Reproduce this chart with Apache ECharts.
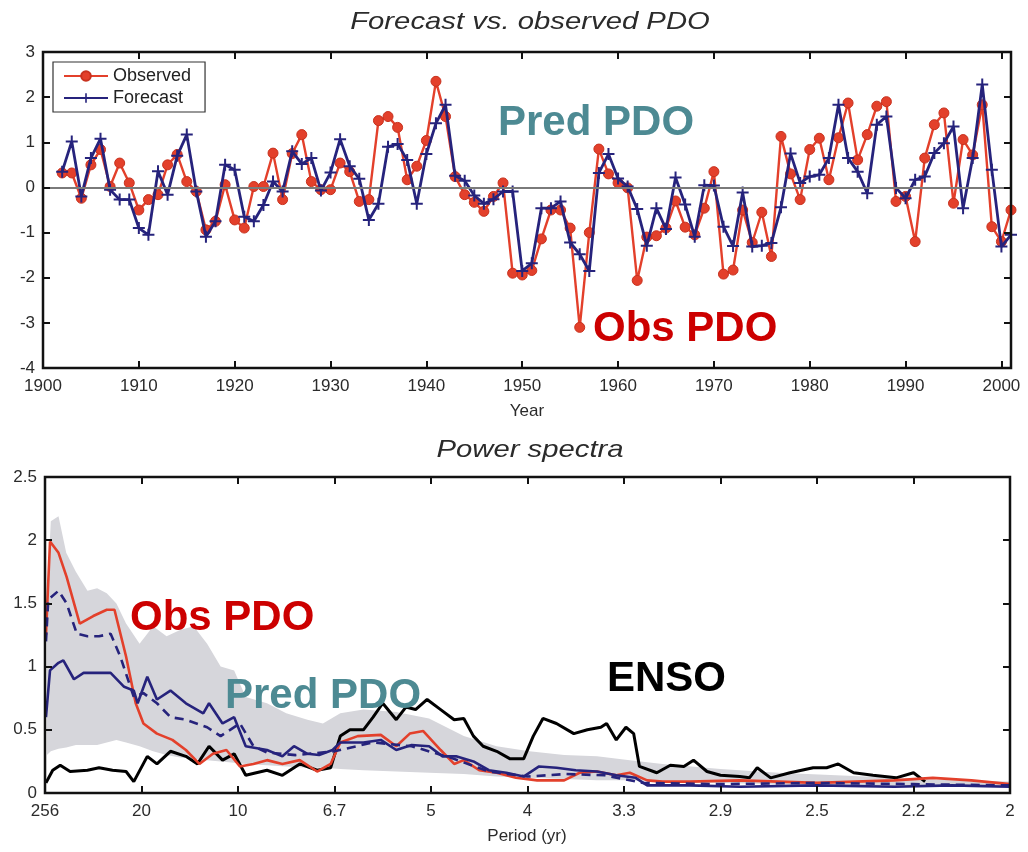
<!DOCTYPE html>
<html><head><meta charset="utf-8">
<script src="https://cdn.jsdelivr.net/npm/echarts@6/dist/echarts.min.js"></script>
<style>html,body{margin:0;padding:0;background:#fff}#c{width:1028px;height:852px}</style>
</head><body><div id="c"></div>
<script>
// ---------- Top panel data ----------
const years = [1902,1903,1904,1905,1906,1907,1908,1909,1910,1911,1912,1913,1914,1915,1916,1917,1918,1919,1920,1921,
1922,1923,1924,1925,1926,1927,1928,1929,1930,1931,1932,1933,1934,1935,1936,1937,1938,1939,1940,1941,
1942,1943,1944,1945,1946,1947,1948,1949,1950,1951,1952,1953,1954,1955,1956,1957,1958,1959,1960,1961,
1962,1963,1964,1965,1966,1967,1968,1969,1970,1971,1972,1973,1974,1975,1976,1977,1978,1979,1980,1981,
1982,1983,1984,1985,1986,1987,1988,1989,1990,1991,1992,1993,1994,1995,1996,1997,1998,1999,2000,2001];
const observed = [0.32,0.32,-0.24,0.5,0.84,0.02,0.54,0.1,-0.5,-0.27,-0.16,0.5,0.73,0.13,-0.09,-0.94,-0.75,0.06,-0.72,-0.9,
0.02,0.02,0.76,-0.27,0.75,1.17,0.13,-0.05,-0.05,0.54,0.35,-0.31,-0.27,1.48,1.57,1.33,0.17,0.47,1.04,2.35,
1.57,0.24,-0.16,-0.33,-0.53,-0.2,0.1,-1.9,-1.94,-1.84,-1.14,-0.5,-0.5,-0.9,-3.1,-1.0,0.85,0.3,0.1,-0.01,
-2.06,-1.1,-1.07,-0.9,-0.3,-0.88,-1.05,-0.46,0.35,-1.92,-1.83,-0.5,-1.22,-0.55,-1.53,1.13,0.3,-0.27,0.84,1.09,
0.17,1.1,1.87,0.61,1.17,1.8,1.9,-0.31,-0.2,-1.2,0.65,1.39,1.65,-0.35,1.06,0.72,1.83,-0.87,-1.2,-0.5];
const forecast = [0.35,1.02,-0.2,0.65,1.08,-0.05,-0.27,-0.27,-0.9,-1.05,0.36,-0.16,0.7,1.17,-0.09,-1.09,-0.75,0.5,0.39,-0.65,
-0.75,-0.39,0.13,-0.09,0.8,0.52,0.65,-0.07,0.33,1.07,0.47,0.19,-0.72,-0.36,0.9,0.96,0.61,-0.36,0.74,1.42,
1.83,0.26,0.15,-0.18,-0.36,-0.26,-0.09,-0.09,-1.85,-1.68,-0.46,-0.46,-0.31,-1.22,-1.48,-1.85,0.32,0.74,0.2,0.02,
-0.48,-1.29,-0.46,-0.92,0.22,-0.38,-1.09,0.05,0.04,-0.87,-1.3,-0.11,-1.31,-1.29,-1.23,-0.44,0.75,0.1,0.24,0.28,
0.65,1.83,0.65,0.35,-0.13,1.39,1.57,-0.01,-0.24,0.17,0.24,0.76,0.98,1.35,-0.46,0.65,2.28,0.39,-1.31,-1.05];
const yearTicks = [1900,1910,1920,1930,1940,1950,1960,1970,1980,1990,2000];

// ---------- Bottom panel data (x = frequency, 1/yr) ----------
const periodLabels = ['256','20','10','6.7','5','4','3.3','2.9','2.5','2.2','2'];
const bandFreq = [0.001,0.003,0.007,0.011,0.016,0.022,0.027,0.032,0.037,0.042,0.049,0.056,0.063,0.07,0.077,0.084,0.091,0.098,0.104,0.115,
0.125,0.136,0.144,0.153,0.165,0.182,0.199,0.217,0.234,0.251,0.269,0.286,0.303,0.32,0.35,0.38,0.41,0.44,0.47,0.5];
const bandUpper = [1.5,2.15,2.19,1.9,1.75,1.6,1.62,1.58,1.5,1.34,1.18,1.32,1.24,1.29,1.32,1.18,1.0,0.97,0.76,0.71,
0.63,0.58,0.55,0.63,0.66,0.64,0.59,0.45,0.37,0.33,0.3,0.29,0.26,0.23,0.19,0.16,0.14,0.12,0.1,0.09];
const bandLower = [0.3,0.33,0.35,0.36,0.38,0.38,0.38,0.4,0.42,0.4,0.37,0.33,0.3,0.28,0.27,0.26,0.25,0.24,0.23,0.22,
0.21,0.2,0.2,0.19,0.18,0.17,0.16,0.15,0.13,0.12,0.11,0.1,0.1,0.09,0.08,0.07,0.06,0.05,0.05,0.04];
const obsSpec = [[0.0005,1.25],[0.0026,1.99],[0.007,1.9],[0.0112,1.71],[0.018,1.34],[0.025,1.4],[0.032,1.45],[0.036,1.45],[0.042,1.08],[0.047,0.71],
[0.051,0.55],[0.058,0.47],[0.066,0.42],[0.073,0.34],[0.08,0.23],[0.087,0.31],[0.094,0.34],[0.101,0.21],[0.108,0.23],[0.115,0.26],
[0.123,0.23],[0.132,0.26],[0.141,0.17],[0.148,0.23],[0.153,0.4],[0.162,0.45],[0.174,0.46],[0.182,0.37],[0.189,0.47],[0.196,0.49],
[0.205,0.34],[0.212,0.23],[0.217,0.26],[0.225,0.18],[0.234,0.16],[0.244,0.12],[0.255,0.1],[0.269,0.1],[0.277,0.16],[0.286,0.17],
[0.296,0.14],[0.303,0.16],[0.312,0.1],[0.32,0.09],[0.334,0.09],[0.36,0.1],[0.4,0.08],[0.44,0.1],[0.46,0.12],[0.48,0.1],[0.5,0.07]];
const predSpec = [[0.0005,0.6],[0.0026,0.97],[0.007,1.03],[0.0095,1.05],[0.015,0.9],[0.02,0.95],[0.029,0.95],[0.034,0.95],[0.041,0.84],[0.046,0.81],
[0.048,0.71],[0.053,0.92],[0.058,0.74],[0.065,0.81],[0.073,0.71],[0.082,0.63],[0.085,0.71],[0.092,0.55],[0.098,0.6],[0.104,0.37],
[0.115,0.34],[0.123,0.29],[0.129,0.37],[0.136,0.31],[0.142,0.3],[0.149,0.34],[0.153,0.4],[0.165,0.4],[0.174,0.42],[0.182,0.34],
[0.19,0.38],[0.199,0.37],[0.206,0.29],[0.213,0.29],[0.222,0.25],[0.23,0.18],[0.239,0.16],[0.248,0.13],[0.256,0.21],[0.265,0.2],
[0.275,0.18],[0.286,0.17],[0.296,0.14],[0.306,0.12],[0.312,0.06],[0.32,0.06],[0.334,0.06],[0.36,0.05],[0.4,0.06],[0.44,0.05],[0.47,0.06],[0.5,0.05]];
const predSpecDashed = [[0.0005,1.2],[0.0017,1.53],[0.007,1.6],[0.0112,1.5],[0.0165,1.26],[0.022,1.24],[0.028,1.24],[0.034,1.26],[0.039,1.08],[0.046,0.76],
[0.051,0.79],[0.058,0.71],[0.065,0.6],[0.073,0.58],[0.084,0.52],[0.091,0.45],[0.101,0.55],[0.108,0.37],[0.115,0.32],[0.13,0.3],
[0.15,0.33],[0.17,0.4],[0.19,0.37],[0.21,0.28],[0.23,0.17],[0.25,0.13],[0.27,0.15],[0.29,0.14],[0.31,0.08],[0.35,0.07],[0.4,0.08],[0.45,0.07],[0.5,0.06]];
const ensoSpec = [[0.0005,0.08],[0.004,0.18],[0.0079,0.22],[0.013,0.17],[0.022,0.18],[0.028,0.2],[0.035,0.18],[0.042,0.17],[0.046,0.09],[0.053,0.29],
[0.058,0.23],[0.065,0.33],[0.073,0.29],[0.079,0.23],[0.085,0.37],[0.092,0.26],[0.098,0.31],[0.104,0.14],[0.115,0.18],[0.123,0.14],
[0.132,0.23],[0.141,0.18],[0.148,0.2],[0.153,0.45],[0.158,0.5],[0.165,0.5],[0.17,0.6],[0.175,0.71],[0.182,0.58],[0.187,0.68],
[0.192,0.66],[0.198,0.74],[0.205,0.66],[0.212,0.58],[0.217,0.59],[0.222,0.45],[0.227,0.37],[0.234,0.33],[0.241,0.27],[0.248,0.27],
[0.253,0.45],[0.258,0.59],[0.265,0.55],[0.274,0.47],[0.281,0.5],[0.288,0.52],[0.291,0.55],[0.296,0.42],[0.301,0.52],[0.305,0.47],
[0.308,0.21],[0.317,0.16],[0.324,0.22],[0.331,0.21],[0.336,0.26],[0.343,0.17],[0.35,0.14],[0.36,0.13],[0.365,0.12],[0.369,0.2],
[0.376,0.12],[0.386,0.16],[0.398,0.2],[0.405,0.2],[0.411,0.23],[0.419,0.16],[0.429,0.14],[0.441,0.12],[0.45,0.16],[0.456,0.09]];

// ---------- styling ----------
const FONT = "'Liberation Sans Narrow','Liberation Sans',Arial,sans-serif";
const TXT = '#2b2b2b';
const RED = '#e3402b';
const NAVY = '#26237c';
const BAND = '#d6d6db';
const plusPath = 'path://M-1,-6L1,-6L1,-1L6,-1L6,1L1,1L1,6L-1,6L-1,1L-6,1L-6,-1L-1,-1Z';

function axisCommon(extra) {
  return Object.assign({
    z: 10,
    axisLine: {show: false, onZero: false},
    axisTick: {show: true, inside: true, length: 7, lineStyle: {color: '#111', width: 2}},
    splitLine: {show: false},
    axisLabel: {show: true, color: TXT, fontFamily: FONT, fontSize: 17, margin: 8}
  }, extra);
}

const chart = echarts.init(document.getElementById('c'), null, {renderer: 'canvas'});
const obsData = years.map((y, i) => [y, observed[i]]);
const fcData = years.map((y, i) => [y, forecast[i]]);
const bandTop = bandFreq.map((f, i) => [f, bandUpper[i]]);
const bandBottom = bandFreq.map((f, i) => [f, bandLower[i]]);

const option = {
  animation: false,
  backgroundColor: '#fff',
  grid: [
    {left: 43, top: 52, width: 968, height: 316, show: true, z: 10, borderColor: '#111', borderWidth: 2.5, backgroundColor: 'transparent'},
    {left: 45, top: 477, width: 965, height: 316, show: true, z: 10, borderColor: '#111', borderWidth: 2.5, backgroundColor: 'transparent'}
  ],
  xAxis: [
    axisCommon({type: 'value', gridIndex: 0, min: 1900, max: 2001, interval: 10, position: 'bottom',
      axisLabel: {color: TXT, fontFamily: FONT, fontSize: 17, margin: 10, showMaxLabel: false,
        formatter: v => yearTicks.includes(v) ? String(v) : ''}}),
    axisCommon({type: 'value', gridIndex: 0, min: 1900, max: 2001, interval: 10, position: 'top', axisLabel: {show: false}}),
    axisCommon({type: 'value', gridIndex: 1, min: 0, max: 0.5, interval: 0.05, position: 'bottom',
      axisLabel: {color: TXT, fontFamily: FONT, fontSize: 17, margin: 10,
        formatter: v => periodLabels[Math.round(v / 0.05)]}}),
    axisCommon({type: 'value', gridIndex: 1, min: 0, max: 0.5, interval: 0.05, position: 'top', axisLabel: {show: false}})
  ],
  yAxis: [
    axisCommon({type: 'value', gridIndex: 0, min: -4, max: 3, interval: 1, position: 'left'}),
    axisCommon({type: 'value', gridIndex: 0, min: -4, max: 3, interval: 1, position: 'right', axisLabel: {show: false}}),
    axisCommon({type: 'value', gridIndex: 1, min: 0, max: 2.5, interval: 0.5, position: 'left'}),
    axisCommon({type: 'value', gridIndex: 1, min: 0, max: 2.5, interval: 0.5, position: 'right', axisLabel: {show: false}})
  ],
  legend: {
    data: ['Observed', 'Forecast'], orient: 'vertical', left: 53, top: 62, z: 12,
    backgroundColor: '#fff', borderColor: '#333', borderWidth: 1.2, borderRadius: 0,
    padding: [5, 14, 5, 10], itemGap: 4, itemWidth: 44, itemHeight: 12,
    textStyle: {fontFamily: FONT, fontSize: 18, color: '#222'}
  },
  series: [
    {name: 'Observed', type: 'line', xAxisIndex: 0, yAxisIndex: 0, data: obsData, color: RED,
      lineStyle: {color: RED, width: 2.4}, symbol: 'circle', symbolSize: 10,
      itemStyle: {color: RED, borderColor: '#c8321f', borderWidth: 1}, z: 3,
      markLine: {silent: true, symbol: 'none', label: {show: false}, animation: false,
        lineStyle: {color: '#7a7a7a', width: 2, type: 'solid'}, data: [{yAxis: 0}]}},
    {name: 'Forecast', type: 'line', xAxisIndex: 0, yAxisIndex: 0, data: fcData, color: NAVY,
      lineStyle: {color: NAVY, width: 2.8}, symbol: plusPath, symbolSize: 12,
      itemStyle: {color: NAVY}, z: 4},

    {name: 'bandUpper', type: 'line', xAxisIndex: 2, yAxisIndex: 2, data: bandTop,
      symbol: 'none', lineStyle: {width: 0, opacity: 0}, areaStyle: {color: BAND, opacity: 1, origin: 'start'}, z: 1, silent: true},
    {name: 'bandLower', type: 'line', xAxisIndex: 2, yAxisIndex: 2, data: bandBottom,
      symbol: 'none', lineStyle: {width: 0, opacity: 0}, areaStyle: {color: '#ffffff', opacity: 1, origin: 'start'}, z: 1.5, silent: true},
    {name: 'ENSO', type: 'line', xAxisIndex: 2, yAxisIndex: 2, data: ensoSpec, symbol: 'none',
      lineStyle: {color: '#000', width: 3}, z: 2},
    {name: 'ObsSpec', type: 'line', xAxisIndex: 2, yAxisIndex: 2, data: obsSpec, symbol: 'none',
      lineStyle: {color: RED, width: 2.6}, z: 3},
    {name: 'PredDash', type: 'line', xAxisIndex: 2, yAxisIndex: 2, data: predSpecDashed, symbol: 'none',
      lineStyle: {color: NAVY, width: 2.6, type: [9, 6]}, z: 4},
    {name: 'PredSolid', type: 'line', xAxisIndex: 2, yAxisIndex: 2, data: predSpec, symbol: 'none',
      lineStyle: {color: NAVY, width: 2.6}, z: 4}
  ],
  graphic: [
    {type: 'text', x: 530, y: 22, z: 20, scaleX: 1.22, style: {text: 'Forecast vs. observed PDO', textAlign: 'center', textVerticalAlign: 'middle',
      font: "italic 24px 'Liberation Sans', Arial, sans-serif", fill: TXT}},
    {type: 'text', x: 527, y: 411, z: 20, style: {text: 'Year', textAlign: 'center', textVerticalAlign: 'middle',
      font: "17px " + FONT, fill: TXT}},
    {type: 'text', x: 530, y: 450, z: 20, scaleX: 1.22, style: {text: 'Power spectra', textAlign: 'center', textVerticalAlign: 'middle',
      font: "italic 24px 'Liberation Sans', Arial, sans-serif", fill: TXT}},
    {type: 'text', x: 527, y: 836, z: 20, style: {text: 'Period (yr)', textAlign: 'center', textVerticalAlign: 'middle',
      font: "17px " + FONT, fill: TXT}},
    {type: 'text', x: 498, y: 123, z: 20, style: {text: 'Pred PDO', textVerticalAlign: 'middle',
      font: "bold 42px 'Liberation Sans', Arial, sans-serif", fill: '#4d8a93',
      shadowColor: 'rgba(0,0,0,0.3)', shadowBlur: 4, shadowOffsetX: 2, shadowOffsetY: 2}},
    {type: 'text', x: 593, y: 329, z: 20, style: {text: 'Obs PDO', textVerticalAlign: 'middle',
      font: "bold 42px 'Liberation Sans', Arial, sans-serif", fill: '#cc0000',
      shadowColor: 'rgba(0,0,0,0.3)', shadowBlur: 4, shadowOffsetX: 2, shadowOffsetY: 2}},
    {type: 'text', x: 130, y: 618, z: 20, style: {text: 'Obs PDO', textVerticalAlign: 'middle',
      font: "bold 42px 'Liberation Sans', Arial, sans-serif", fill: '#cc0000',
      shadowColor: 'rgba(0,0,0,0.3)', shadowBlur: 4, shadowOffsetX: 2, shadowOffsetY: 2}},
    {type: 'text', x: 225, y: 696, z: 20, style: {text: 'Pred PDO', textVerticalAlign: 'middle',
      font: "bold 42px 'Liberation Sans', Arial, sans-serif", fill: '#4d8a93',
      shadowColor: 'rgba(0,0,0,0.3)', shadowBlur: 4, shadowOffsetX: 2, shadowOffsetY: 2}},
    {type: 'text', x: 607, y: 679, z: 20, style: {text: 'ENSO', textVerticalAlign: 'middle',
      font: "bold 42px 'Liberation Sans', Arial, sans-serif", fill: '#000',
      shadowColor: 'rgba(0,0,0,0.3)', shadowBlur: 4, shadowOffsetX: 2, shadowOffsetY: 2}}
  ]
};
chart.setOption(option);
</script>
</body></html>
